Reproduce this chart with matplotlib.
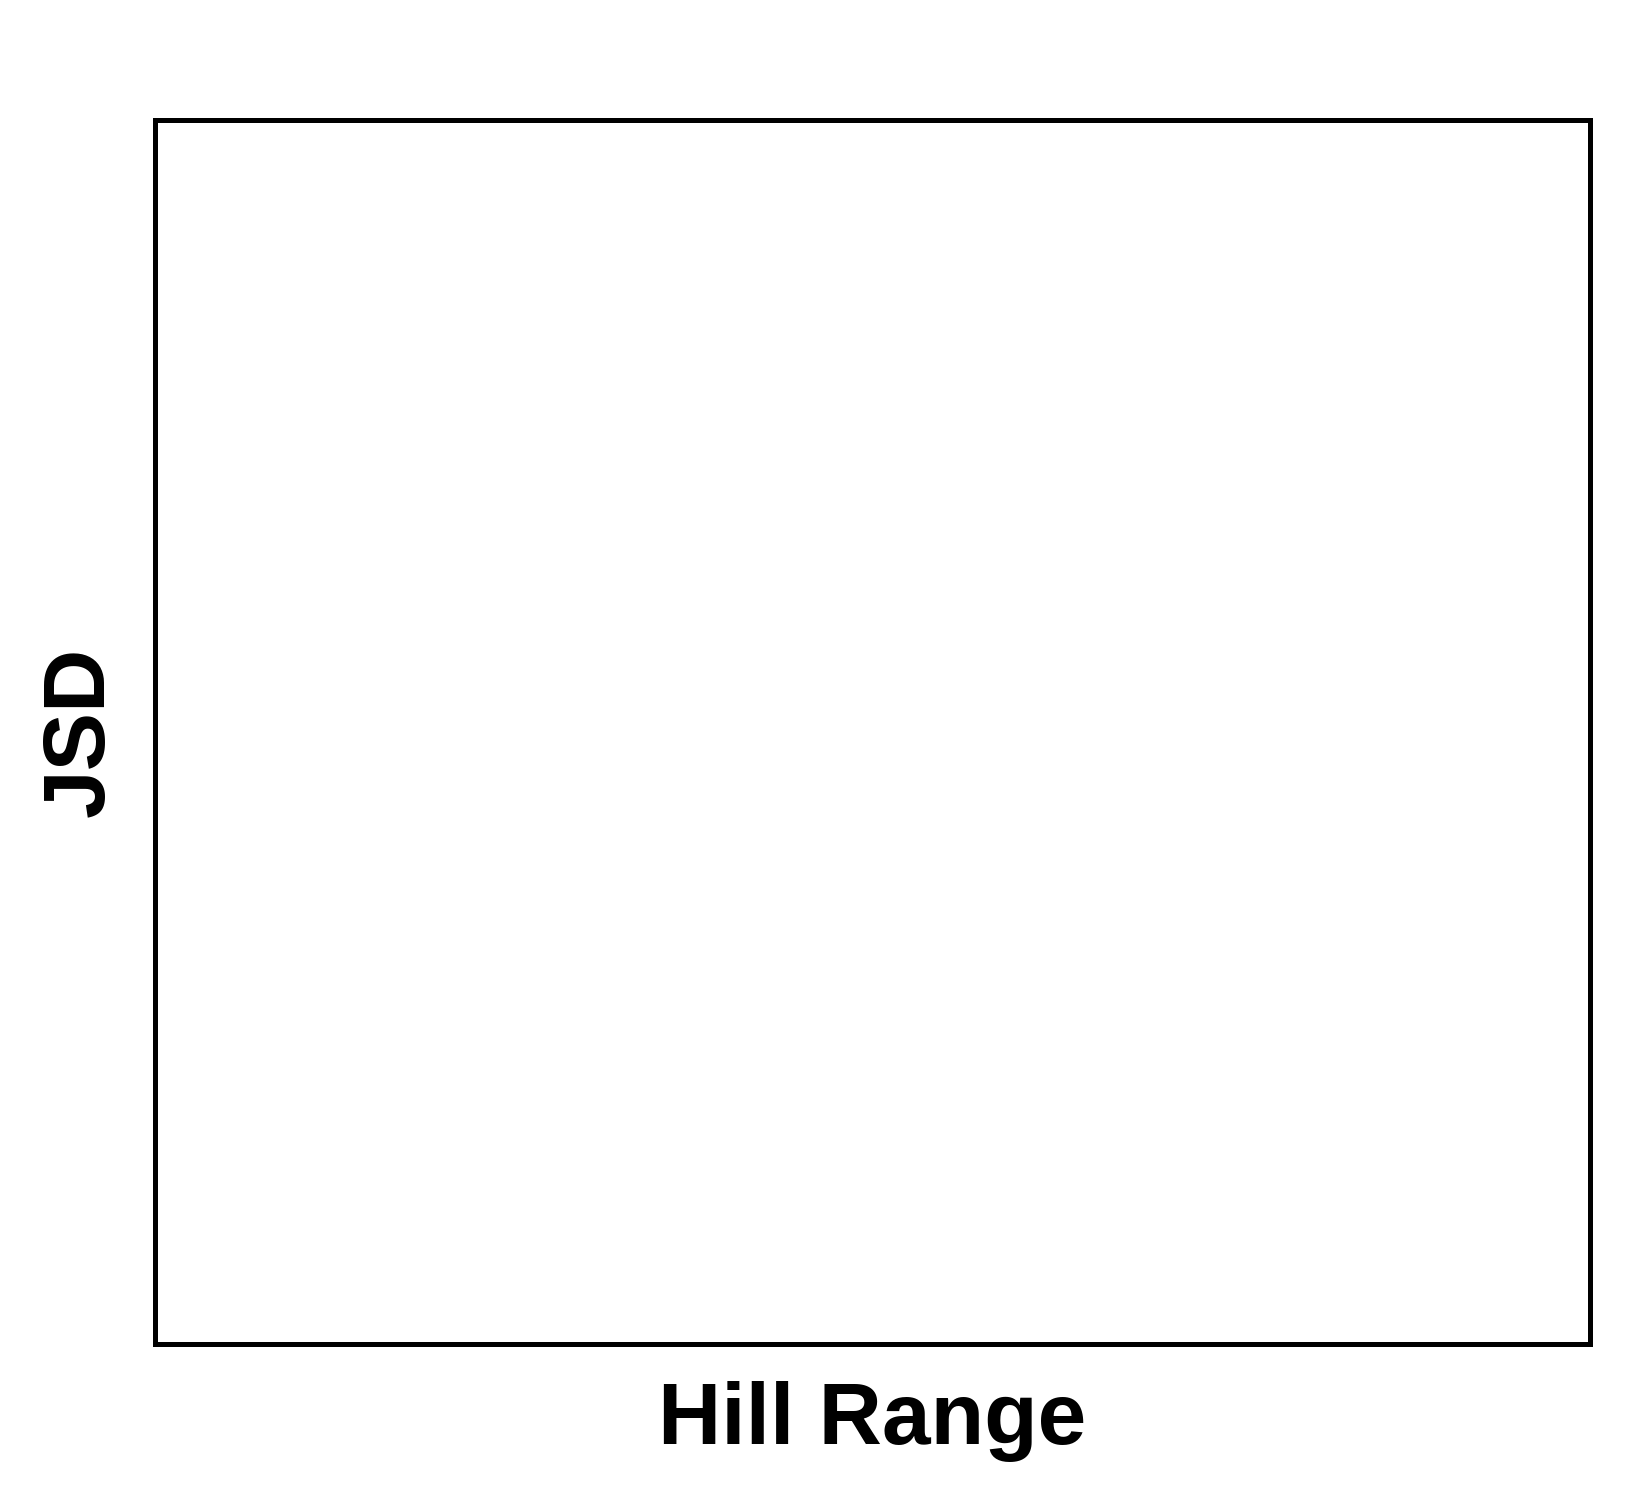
import matplotlib
matplotlib.use("Agg")
import matplotlib.pyplot as plt

# labels of the (empty) panel
x_label = "Hill Range"
y_label = "JSD"
x_ticks = []
y_ticks = []

plt.rcParams["font.family"] = ["Liberation Sans", "DejaVu Sans"]

fig = plt.figure(figsize=(16.5, 15), dpi=100)
ax = fig.add_axes([0.094, 0.1037, 0.8696, 0.8166])

ax.set_xticks(x_ticks)
ax.set_yticks(y_ticks)
for side in ax.spines.values():
    side.set_linewidth(3.6)
    side.set_color("black")

ax.set_xlabel(x_label, fontsize=63, fontweight="bold", labelpad=26)
ax.set_ylabel(y_label, fontsize=63, fontweight="bold", labelpad=24)

fig.savefig("out.png", dpi=100)
